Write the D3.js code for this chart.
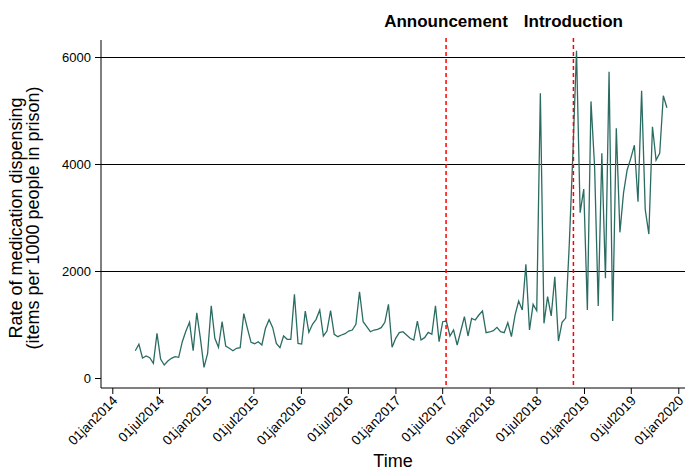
<!DOCTYPE html>
<html>
<head>
<meta charset="utf-8">
<script src="https://cdn.jsdelivr.net/npm/d3@7"></script>
<style>
  html, body { margin: 0; padding: 0; background: #ffffff; }
  svg { display: block; font-family: "Liberation Sans", Arial, Helvetica, sans-serif; }
</style>
</head>
<body>
<svg id="chart" width="686" height="473"></svg>
<script>
// ---- data ----
// fortnightly observations, first period starting 31 Mar 2014
const seriesStart = "2014-03-31";
const periodDays = 14;
const rateValues = [
  510, 630, 374, 411, 380, 274, 835, 355, 243, 318,
  368, 399, 387, 679, 878, 1041, 510, 1220, 742, 200,
  461, 1351, 742, 574, 1052, 598, 555, 510, 555, 566,
  1202, 929, 667, 641, 679, 617, 929, 1090, 940, 648,
  566, 785, 723, 723, 1564, 648, 635, 1252, 854, 1004,
  1097, 1271, 785, 878, 1258, 817, 772, 804, 828, 878,
  897, 1004, 1613, 1052, 959, 865, 897, 910, 940, 1041,
  1377, 574, 742, 847, 865, 804, 742, 710, 1065, 710,
  754, 854, 817, 1351, 679, 1052, 1065, 785, 897, 617,
  878, 1146, 785, 1115, 1084, 1177, 1252, 847, 860, 884,
  947, 865, 847, 1034, 772, 1177, 1439, 1271, 2125, 897,
  1377, 1258, 5321, 1022, 1520, 1159, 1893, 690, 1040, 1120,
  2500, 4200, 6117, 3090, 3532, 1271, 5170, 3950, 1346, 4200,
  1863, 5725, 1065, 4667, 2723, 3460, 3888, 4106, 4352, 3293,
  5370, 3150, 2691, 4697, 4075, 4200, 5276, 5052
];
const yTicks = [0, 2000, 4000, 6000];
const yGridTicks = [2000, 4000, 6000];
const xTickDates = ["2014-01-01","2014-07-01","2015-01-01","2015-07-01","2016-01-01","2016-07-01",
  "2017-01-01","2017-07-01","2018-01-01","2018-07-01","2019-01-01","2019-07-01","2020-01-01"];
const eventDates = ["2017-07-16", "2018-11-21"];
const eventLabels = ["Announcement", "Introduction"];
const yTitleLines = ["Rate of medication dispensing", "(items per 1000 people in prison)"];
const xTitle = "Time";

// ---- drawing ----
const parse = d3.utcParse("%Y-%m-%d");
const fmt = d3.utcFormat("%d%b%Y");
const fmtTick = d => fmt(d).toLowerCase();

const svg = d3.select("#chart");
const plotL = 101, plotR = 685, plotT = 40, plotB = 388;

const x = d3.scaleUtc()
  .domain([parse("2014-01-01"), parse("2020-01-01")])
  .range([112.3, 678.3]);
const y = d3.scaleLinear().domain([0, 6000]).range([378, 57]);

const start = parse(seriesStart);
const data = rateValues.map((v, i) => ({ date: d3.utcDay.offset(start, i * periodDays), value: v }));

// gridlines
svg.append("g")
  .selectAll("line")
  .data(yGridTicks)
  .join("line")
  .attr("x1", plotL).attr("x2", plotR)
  .attr("y1", d => Math.round(y(d)) + 0.5).attr("y2", d => Math.round(y(d)) + 0.5)
  .attr("stroke", "#000").attr("stroke-width", 1.1);

// y axis
const yAxis = d3.axisLeft(y).tickValues(yTicks).tickSize(6).tickPadding(4).tickFormat(d3.format("d"));
const gy = svg.append("g").attr("transform", `translate(${plotL},0)`).call(yAxis);
gy.select(".domain").remove();
gy.append("line").attr("x1", 0).attr("x2", 0).attr("y1", plotT).attr("y2", plotB).attr("stroke", "#000");
gy.selectAll(".tick line").attr("stroke", "#000");
gy.selectAll(".tick text").attr("font-size", 13).attr("fill", "#000")
  .attr("font-family", "Liberation Sans, Arial, sans-serif");

// x axis
const xAxis = d3.axisBottom(x).tickValues(xTickDates.map(parse)).tickSize(6).tickFormat(fmtTick);
const gx = svg.append("g").attr("transform", `translate(0,${plotB})`).call(xAxis);
gx.select(".domain").remove();
gx.append("line").attr("x1", plotL).attr("x2", plotR).attr("y1", 0).attr("y2", 0).attr("stroke", "#000");
gx.selectAll(".tick line").attr("stroke", "#000");
gx.selectAll(".tick text")
  .attr("font-size", 13.5).attr("fill", "#000")
  .attr("font-family", "Liberation Sans, Arial, sans-serif")
  .attr("text-anchor", "end")
  .attr("dy", null).attr("y", null)
  .attr("transform", "translate(3,11) rotate(-45)")
  .attr("dominant-baseline", "middle");

// series line
svg.append("path")
  .datum(data)
  .attr("fill", "none")
  .attr("stroke", "#2b6c62")
  .attr("stroke-width", 1.3)
  .attr("stroke-linejoin", "miter")
  .attr("d", d3.line().x(d => x(d.date)).y(d => y(d.value)));

// event lines
const ev = eventDates.map(parse);
svg.append("g").selectAll("line").data(ev).join("line")
  .attr("x1", d => x(d)).attr("x2", d => x(d))
  .attr("y1", plotT - 2).attr("y2", plotB)
  .attr("stroke", "#ff0000").attr("stroke-width", 1.5)
  .attr("stroke-dasharray", "4,3");
svg.append("g").selectAll("text").data(ev).join("text")
  .attr("x", d => x(d)).attr("y", 27)
  .attr("text-anchor", "middle")
  .attr("font-weight", "bold").attr("font-size", 17)
  .text((d, i) => eventLabels[i]);

// y title
const yt = svg.append("text")
  .attr("transform", `translate(25,${(plotT + plotB) / 2 + 4}) rotate(-90)`)
  .attr("text-anchor", "middle").attr("font-size", 18).attr("fill", "#000");
yt.selectAll("tspan").data(yTitleLines).join("tspan")
  .attr("x", 0).attr("dy", (d, i) => i === 0 ? "-0.15em" : "0.9em")
  .text(d => d);

// x title
svg.append("text")
  .attr("x", (plotL + plotR) / 2).attr("y", 467)
  .attr("text-anchor", "middle").attr("font-size", 18).attr("fill", "#000")
  .text(xTitle);
</script>
</body>
</html>
